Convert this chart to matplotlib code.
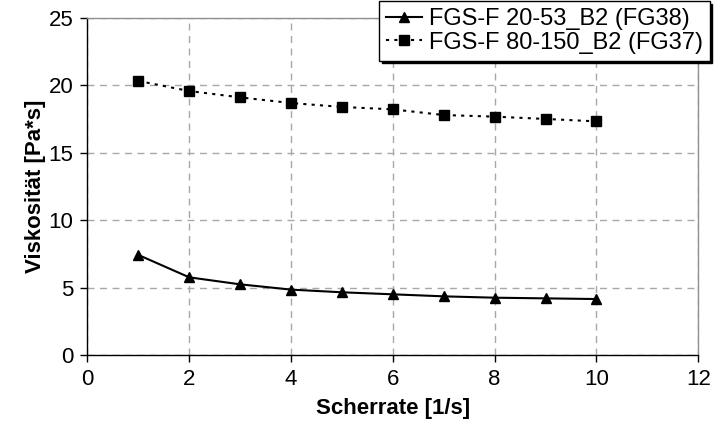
import matplotlib
matplotlib.use('Agg')
from matplotlib import pyplot as plt

plt.rcParams['font.family'] = ['Liberation Sans', 'DejaVu Sans']

# data
scherrate = [1, 2, 3, 4, 5, 6, 7, 8, 9, 10]
fg38 = [7.42, 5.76, 5.24, 4.85, 4.65, 4.50, 4.35, 4.25, 4.20, 4.15]
fg37 = [20.33, 19.58, 19.11, 18.69, 18.40, 18.22, 17.80, 17.68, 17.51, 17.33]
labels = ['FGS-F 20-53_B2 (FG38)', 'FGS-F 80-150_B2 (FG37)']
xticks = [0, 2, 4, 6, 8, 10, 12]
yticks = [0, 5, 10, 15, 20, 25]

fs = 16

fig = plt.figure(figsize=(7.14, 4.28), dpi=100)
ax = fig.add_axes([0.1225, 0.1706, 0.8555, 0.7874])

ax.plot(scherrate, fg38, color='black', lw=1.5, marker='^', ms=7, label=labels[0])
ax.plot(scherrate, fg37, color='black', lw=1.5, ls=(0, (1.5, 2.5)), marker='s', ms=6.5, label=labels[1])

ax.set_xlim(0, 12)
ax.set_ylim(0, 25)
ax.set_xticks(xticks)
ax.set_yticks(yticks)
ax.tick_params(direction='out', length=5, width=1, labelsize=fs, colors='black')
ax.tick_params(axis='x', pad=5)
ax.tick_params(axis='y', pad=5)

ax.grid(True, color='#a8a8a8', ls=(0, (5, 4)), lw=1)
ax.set_axisbelow(True)

for s in ['top', 'right']:
    ax.spines[s].set_color('#909090')
    ax.spines[s].set_linewidth(1)
for s in ['left', 'bottom']:
    ax.spines[s].set_color('black')
    ax.spines[s].set_linewidth(1)

ax.set_xlabel('Scherrate [1/s]', fontsize=fs, fontweight='bold', labelpad=6)
ax.set_ylabel('Viskosität [Pa*s]', fontsize=fs, fontweight='bold', labelpad=2)

leg = fig.legend(loc='upper right', bbox_to_anchor=(0.994, 0.997), fontsize=17,
                 frameon=True, fancybox=False, shadow={'color': 'black', 'alpha': 1},
                 handlelength=1.5, handletextpad=0.3, borderpad=0.3, labelspacing=0.05,
                 borderaxespad=0)
leg.get_frame().set_edgecolor('black')
leg.get_frame().set_linewidth(1)

fig.savefig('out.png', dpi=100)
